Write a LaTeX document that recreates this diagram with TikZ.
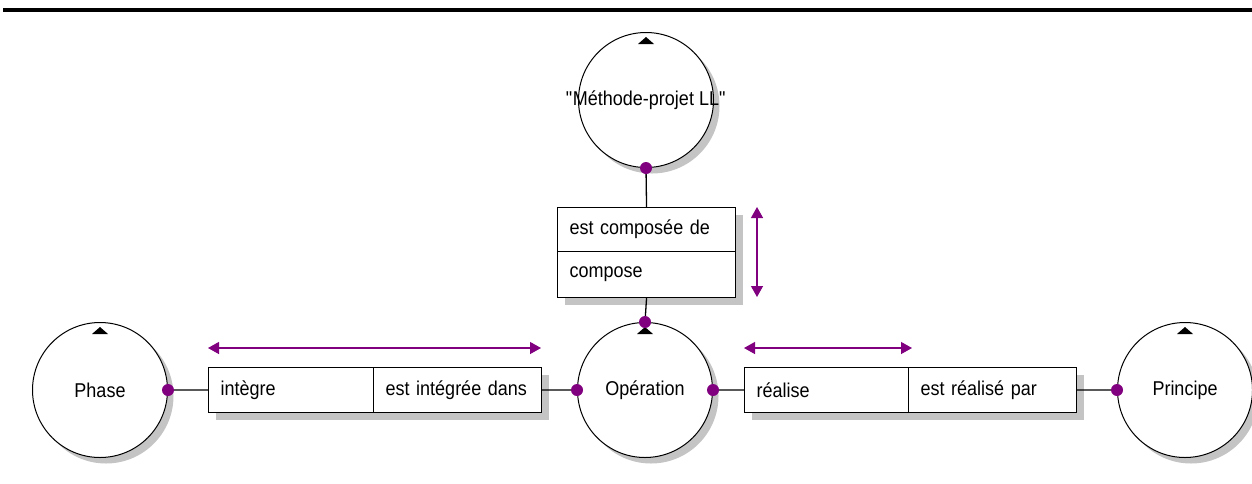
\documentclass[tikz,border=0pt]{standalone}
\usepackage{fontspec}
\setmainfont[FakeStretch=0.9]{Liberation Sans}
\usetikzlibrary{arrows.meta,shadows}
\definecolor{pur}{HTML}{800080}
\definecolor{shd}{HTML}{C4C4C4}
\begin{document}
\begin{tikzpicture}[x=1pt,y=-1pt,
  ent/.style={circle,draw,line width=1pt,fill=white,minimum size=135pt,inner sep=0pt,
    font=\fontsize{20}{22}\selectfont,
    drop shadow={shadow xshift=6pt,shadow yshift=-6pt,fill=shd,opacity=1}},
  lbl/.style={inner sep=0pt,font=\fontsize{20}{22}\selectfont},
  cell/.style={rectangle,draw,line width=1.1pt,fill=white,inner xsep=12pt,inner ysep=0pt,
    align=left,font=\fontsize{20}{22}\selectfont,anchor=north west,
    drop shadow={shadow xshift=7pt,shadow yshift=-7pt,fill=shd,opacity=1}},
  dot/.style={circle,fill=pur,inner sep=0pt,minimum size=12pt},
  link/.style={line width=1.3pt},
  dirarrow/.style={pur,line width=1.3pt,{Triangle[length=11pt,width=12pt]}-{Triangle[length=11pt,width=12pt]}}
]
\useasboundingbox (0,0) rectangle (1252,483);
% top bar
\fill (3,8) rectangle (1252,12);

% entities
\node[ent] (meth) at (646,100) {};
\node[lbl] (methtxt) at (meth.center) {\textquotedbl Méthode-projet LL\textquotedbl};
\node[ent] (phase) at (100,390) {Phase};
\node[ent] (op) at (645,390) {Opération};
\node[ent] (princ) at (1185,390) {Principe};

% triangles
\foreach \n in {meth,phase,op,princ}{
  \fill ([shift={(-8,12)}]\n.north) -- ([shift={(8,12)}]\n.north) -- ([shift={(0,5)}]\n.north) -- cycle;
}

% relation boxes
\node[cell,minimum width=178pt,minimum height=44pt,text width=160pt,inner xsep=9pt] (rc1) at (557,207) {\hspace{3pt}est composée de};
\node[cell,minimum width=178pt,minimum height=46pt,text width=154pt] (rc2) at (557,251) {compose};

\node[cell,minimum width=165pt,minimum height=45pt,text width=141pt] (ri1) at (208,367) {intègre};
\node[cell,minimum width=168pt,minimum height=45pt,text width=150pt,inner xsep=9pt] (ri2) at (373,367) {\hspace{3pt}est intégrée dans};

\node[cell,minimum width=164pt,minimum height=45pt,text width=140pt] (rr1) at (744,367) {réalise};
\node[cell,minimum width=168pt,minimum height=45pt,text width=144pt] (rr2) at (908,367) {est réalisé par};

% connectors
\draw[link] (meth.south) -- (rc1.north);
\draw[link] (rc2.south) -- (op.north);
\draw[link] (phase.east) -- (ri1.west);
\draw[link] (ri2.east) -- (op.west);
\draw[link] (op.east) -- (rr1.west);
\draw[link] (rr2.east) -- (princ.west);

% dots
\node[dot] (d1) at (meth.south) {};
\node[dot] (d2) at (op.north) {};
\node[dot] (d3) at (phase.east) {};
\node[dot] (d4) at (op.west) {};
\node[dot] (d5) at (op.east) {};
\node[dot] (d6) at (princ.west) {};

% direction arrows
\coordinate (a1s) at (208,348); \coordinate (a1e) at (541,348);
\coordinate (a2s) at (744,348); \coordinate (a2e) at (912,348);
\coordinate (a3s) at (757,207); \coordinate (a3e) at (757,297);
\draw[dirarrow] (a1s) -- (a1e);
\draw[dirarrow] (a2s) -- (a2e);
\draw[dirarrow] (a3s) -- (a3e);
\end{tikzpicture}
\end{document}
